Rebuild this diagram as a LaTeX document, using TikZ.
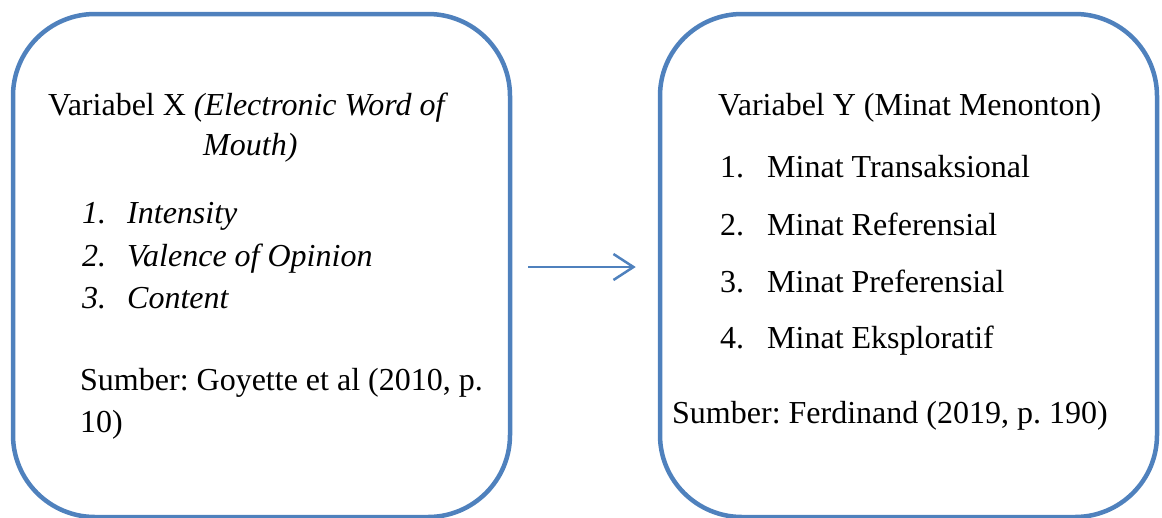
\documentclass[tikz,border=0pt]{standalone}
\usepackage{fontspec}
\setmainfont{Liberation Serif}
\usetikzlibrary{arrows.meta}
\definecolor{boxblue}{HTML}{4F81BD}
\frenchspacing
\begin{document}
\begin{tikzpicture}[x=1pt,y=-1pt,
  box/.style={draw=boxblue,line width=4.5pt,rounded corners=82pt,inner sep=0pt,
    minimum width=497pt,minimum height=503pt},
  txt/.style={anchor=base west,inner sep=0pt,font=\fontsize{32}{38}\selectfont},
  conn/.style={draw=boxblue,line width=2.5pt,-{Straight Barb[length=20pt,width=26pt,line width=2.5pt]}}]
\useasboundingbox (0,0) rectangle (1162,517);
\node[box] (L) at (261.5,265.5) {};
\node[box] (R) at (908.5,265.5) {};
% left box text
\node[txt] (lt1) at (48,115) {Variabel X \textit{(Electronic Word of}};
\node[txt] (lt2) at (203,155) {\textit{Mouth)}};
\node[txt] (ln1) at (82,223) {\textit{1.}};
\node[txt] (li1) at (127,223) {\textit{Intensity}};
\node[txt] (ln2) at (82,266) {\textit{2.}};
\node[txt] (li2) at (127,266) {\textit{Valence of Opinion}};
\node[txt] (ln3) at (82,308) {\textit{3.}};
\node[txt] (li3) at (127,308) {\textit{Content}};
\node[txt] (ls1) at (80,390) {Sumber: Goyette et al (2010, p.};
\node[txt] (ls2) at (80,432) {10)};
% right box text
\node[txt] (rt1) at (718,115) {Variabel Y (Minat Menonton)};
\node[txt] (rn1) at (720,177) {1.};
\node[txt] (ri1) at (767,177) {Minat Transaksional};
\node[txt] (rn2) at (720,235) {2.};
\node[txt] (ri2) at (767,235) {Minat Referensial};
\node[txt] (rn3) at (720,292) {3.};
\node[txt] (ri3) at (767,292) {Minat Preferensial};
\node[txt] (rn4) at (720,348) {4.};
\node[txt] (ri4) at (767,348) {Minat Eksploratif};
\node[txt] (rs) at (672,423) {Sumber: Ferdinand (2019, p. 190)};
% arrow
\draw[conn] ([xshift=16pt,yshift=-1.5pt]L.east) -- ([xshift=-22pt,yshift=-1.5pt]R.west);
\end{tikzpicture}
\end{document}
